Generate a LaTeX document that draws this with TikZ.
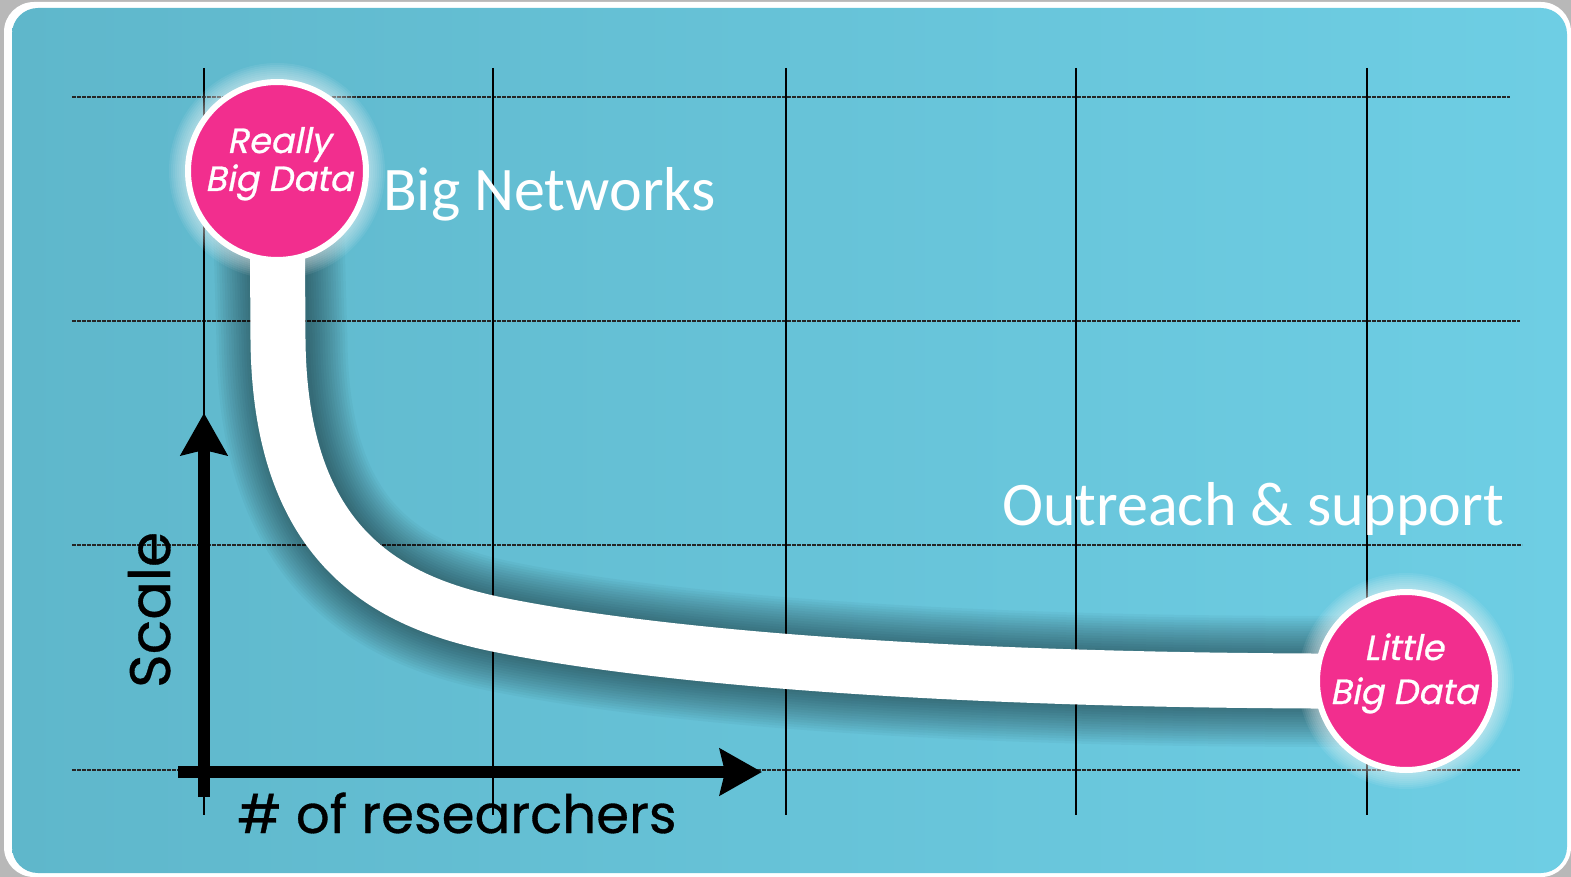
\documentclass[tikz,border=0pt]{standalone}
\usepackage{fontspec}
\usetikzlibrary{arrows.meta}
\newfontfamily\calfont{Carlito}
\newfontfamily\popfont[FakeBold=0.6]{Poppins}
\newfontfamily\popit[FakeSlant=0.2,FakeBold=0.8]{Poppins}
\definecolor{bgL}{RGB}{95,183,203}
\definecolor{bgR}{RGB}{110,206,228}
\definecolor{pinkc}{RGB}{242,46,142}
\tikzset{
  hgrid/.style={line width=1.3pt, dash pattern=on 4pt off 1pt, black!85},
  vgrid/.style={line width=1.3pt, black},
  axisline/.style={line width=12pt, black, -{Stealth[length=42pt,width=46pt,inset=5pt]}},
  bubble/.style={circle, fill=pinkc, draw=white, line width=6pt, minimum size=178pt, inner sep=0pt},
  bubtext/.style={anchor=base, inner sep=0pt, white, font=\popit\fontsize{35}{35}\selectfont},
  bigtext/.style={anchor=base west, inner sep=0pt, white, font=\calfont\fontsize{62}{62}\selectfont},
  axtext/.style={anchor=base west, inner sep=0pt, black, font=\popfont\fontsize{53}{53}\selectfont},
  band/.style={white, line width=55pt}
}
\begin{document}
\begin{tikzpicture}[x=1pt,y=-1pt]
\useasboundingbox (0,0) rectangle (1571,877);
\fill[black!28] (0,0) rectangle (1571,877);
\fill[white, rounded corners=30pt] (4,2) rectangle (1571,877);
\shade[left color=bgL, right color=bgR, rounded corners=26pt] (12,8) rectangle (1567,873);
% grid
\draw[hgrid] (72,97) -- (1510,97);
\draw[hgrid] (72,321) -- (1520,321);
\draw[hgrid] (72,545) -- (1522,545);
\draw[hgrid] (72,770) -- (1520,770);
\foreach \gx in {204,493,786,1076,1367} \draw[vgrid] (\gx,68) -- (\gx,815);
% axes
\draw[axisline] (204,797) -- (204,413);
\draw[axisline] (178,772) -- (762,772);
% curve endpoints
\coordinate (bigc) at (277,171);
\coordinate (litc) at (1406,681);
% shadow of curve
\foreach \i in {0,...,15}
  \draw[black, opacity=0.032, line width={(56+5*\i)*1pt}, shift={(4,2)}] (bigc) -- (278,340) .. controls (280,540) and (380,600) .. (495,624) .. controls (650,656) and (950,683) .. (litc);
\draw[band] (bigc) -- (278,340) .. controls (280,540) and (380,600) .. (495,624) .. controls (650,656) and (950,683) .. (litc);
% glows
\foreach \i in {0,...,8}{
  \fill[white, opacity=0.07] (bigc) circle[radius={92+2*\i}];
  \fill[white, opacity=0.07] (litc) circle[radius={92+2*\i}];
}
\node[bubble] (big) at (bigc) {};
\node[bubble] (little) at (litc) {};
\node[bubtext] (t1) at (279,153) {Really};
\node[bubtext] (t2) at (279,191) {Big Data};
\node[bubtext] (t3) at (1404,660) {Little};
\node[bubtext] (t4) at (1404,704) {Big Data};
\node[bigtext] (bn) at (383,211) {Big Networks};
\node[bigtext] (os) at (1002,525) {Outreach \& support};
\node[axtext] (res) at (237,833) {\# of researchers};
\node[axtext, font=\popfont\fontsize{57}{57}\selectfont, rotate=90] (sc) at (170,688) {Scale};
\end{tikzpicture}
\end{document}
